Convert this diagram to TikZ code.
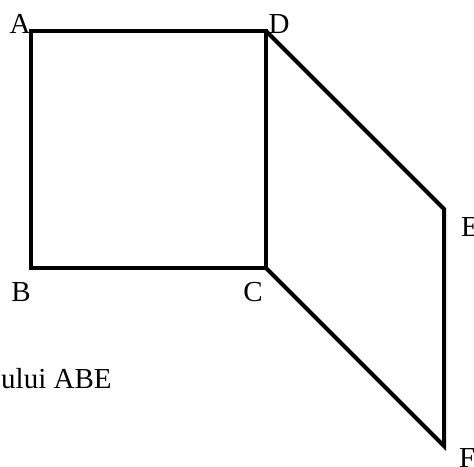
\documentclass[tikz,border=0pt]{standalone}
\usepackage{fontspec}
\setmainfont{Liberation Serif}
\begin{document}
\begin{tikzpicture}[x=1pt,y=-1pt,
  edge/.style={line width=4pt,line join=miter},
  lbl/.style={inner sep=0pt,font=\fontsize{29}{32}\selectfont}]
\useasboundingbox (0,0) rectangle (474,466);
\coordinate (A) at (31,31);
\coordinate (D) at (266,31);
\coordinate (C) at (266,268);
\coordinate (B) at (31,268);
\coordinate (E) at (444,209);
\coordinate (F) at (444,446);
\draw[edge] (A) -- (D) -- (C) -- (B) -- cycle;
\draw[edge] (D) -- (E) -- (F) -- (C);
\node[lbl,anchor=base] (lA) at (20,33) {A};
\node[lbl,anchor=base] (lD) at (279,33) {D};
\node[lbl,anchor=base west] (lE) at (461,236) {E};
\node[lbl,anchor=base] (lB) at (21,301) {B};
\node[lbl,anchor=base] (lC) at (253,301) {C};
\node[lbl,anchor=base west] (lF) at (459,467) {F};
\node[lbl,anchor=base west] (txt) at (1,388) {ului ABE};
\end{tikzpicture}
\end{document}
